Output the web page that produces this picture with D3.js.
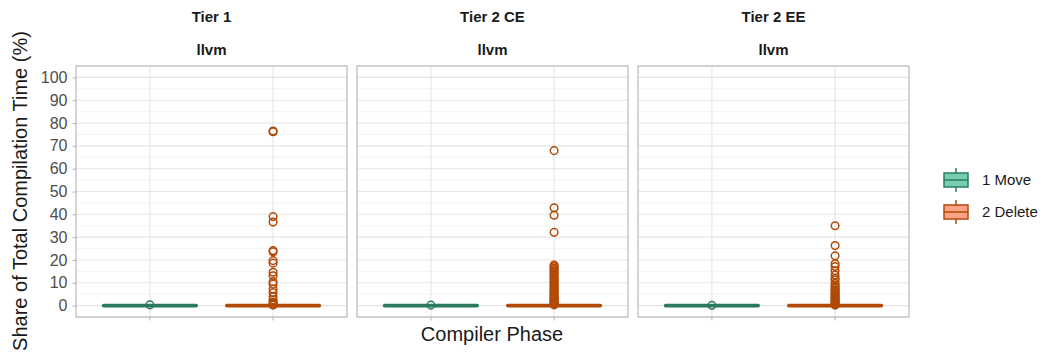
<!DOCTYPE html>
<html lang="en">
<head>
<meta charset="UTF-8">
<title>Share of Total Compilation Time</title>
<script src="https://d3js.org/d3.v7.min.js"></script>
<style>
    body { margin: 0; background: #fff; font-family: "Liberation Sans", Arial, sans-serif; }
    svg text { font-family: "Liberation Sans", Arial, sans-serif; }
</style>
</head>
<body>
<svg id="chart" width="1041" height="352"></svg>
<script>
    // panels and categories
    const tiers = ["Tier 1", "Tier 2 CE", "Tier 2 EE"];
    const phases = ["1 Move", "2 Delete"];
    const yTicks = [0, 10, 20, 30, 40, 50, 60, 70, 80, 90, 100];

    // box stats per tier: [min, q1, median, q3, max]
    const moveStats = [[0, 0, 0, 0, 0.1], [0, 0, 0, 0, 0.1], [0, 0, 0, 0, 0.1]];
    const deleteStats = [[0, 0, 0, 0, 0.1], [0, 0, 0, 0, 0.1], [0, 0, 0, 0, 0.1]];

    // outliers
    const moveOutliers = [[0.3], [0.2], [0.1]];
    const deleteOutliers = [
        [76.5, 76.2, 39.0, 36.6, 24.1, 23.6, 19.7, 18.6, 14.6, 13.1, 10.5, 9.4, 7.3, 5.7, 3.9, 2.5, 1.6, 1.0, 0.5, 0.2],
        [67.9, 42.9, 39.6, 32.1, 17.8, 17.1, 16.5, 15.8, 15.2, 14.6, 14.0, 13.2, 12.5, 11.9, 11.2, 10.6, 9.9, 9.3,
         8.7, 8.1, 7.5, 6.9, 6.4, 5.8, 5.3, 4.7, 4.2, 3.7, 3.2, 2.8, 2.4, 2.0, 1.6, 1.2, 0.9, 0.6, 0.3],
        [35.0, 26.3, 21.8, 18.3, 17.1, 15.3, 13.4, 12.0, 11.2, 9.8, 9.0, 8.3, 7.6, 6.9, 6.3, 5.7, 5.1, 4.6,
         4.0, 3.5, 3.0, 2.5, 2.0, 1.6, 1.2, 0.8, 0.5, 0.2]
    ];

    const fills = ["#78ceb0", "#fca386"];
    const strokes = ["#2b7a5f", "#b04a06"];

    const svg = d3.select("#chart");
    const panelLefts = [76, 357, 638];
    const panelW = 271;
    const panelTop = 66, panelBottom = 317;

    const y = d3.scaleLinear().domain([-5, 105]).range([panelBottom, panelTop]);

    tiers.forEach((tier, i) => {
        const x0 = panelLefts[i];
        const x = d3.scalePoint().domain(phases).range([x0, x0 + panelW]).padding(0.6);
        const boxW = x.step() * 0.75;
        const g = svg.append("g");

        // grid
        const minor = d3.range(-5, 106, 10);
        g.selectAll(".minor").data(minor).enter().append("line")
            .attr("x1", x0).attr("x2", x0 + panelW)
            .attr("y1", d => y(d)).attr("y2", d => y(d))
            .attr("stroke", "#f0f0f0").attr("stroke-width", 0.8);
        g.selectAll(".major").data(yTicks).enter().append("line")
            .attr("x1", x0).attr("x2", x0 + panelW)
            .attr("y1", d => y(d)).attr("y2", d => y(d))
            .attr("stroke", "#e5e5e5").attr("stroke-width", 1.1);
        g.selectAll(".vmajor").data(phases).enter().append("line")
            .attr("x1", d => x(d)).attr("x2", d => x(d))
            .attr("y1", panelTop).attr("y2", panelBottom)
            .attr("stroke", "#e5e5e5").attr("stroke-width", 1.1);

        // boxes
        const stats = [moveStats[i], deleteStats[i]];
        const outs = [moveOutliers[i], deleteOutliers[i]];
        phases.forEach((p, k) => {
            const s = stats[k];
            const cx = x(p);
            g.append("line").attr("x1", cx).attr("x2", cx)
                .attr("y1", y(s[0])).attr("y2", y(s[4]))
                .attr("stroke", strokes[k]).attr("stroke-width", 1.5);
            g.append("rect")
                .attr("x", cx - boxW / 2).attr("width", boxW)
                .attr("y", y(s[3])).attr("height", Math.max(0.01, y(s[1]) - y(s[3])))
                .attr("fill", fills[k]).attr("stroke", strokes[k]).attr("stroke-width", 1.5);
            g.append("line")
                .attr("x1", cx - boxW / 2).attr("x2", cx + boxW / 2)
                .attr("y1", y(s[2])).attr("y2", y(s[2]))
                .attr("stroke", strokes[k]).attr("stroke-width", 3.8)
                .attr("stroke-linecap", "round");
            g.selectAll(null).data(outs[k]).enter().append("circle")
                .attr("cx", cx).attr("cy", d => y(d)).attr("r", 3.8)
                .attr("fill", "none").attr("stroke", strokes[k]).attr("stroke-width", 1.5);
        });

        // panel border
        g.append("rect").attr("x", x0).attr("y", panelTop).attr("width", panelW).attr("height", panelBottom - panelTop)
            .attr("fill", "none").attr("stroke", "#b3b3b3").attr("stroke-width", 1.1);

        // x ticks
        g.selectAll(".xt").data(phases).enter().append("line")
            .attr("x1", d => x(d)).attr("x2", d => x(d))
            .attr("y1", panelBottom).attr("y2", panelBottom + 3.5)
            .attr("stroke", "#b3b3b3").attr("stroke-width", 1);

        // strips
        g.append("text").attr("x", x0 + panelW / 2).attr("y", 22).attr("text-anchor", "middle")
            .attr("font-size", 15).attr("font-weight", "bold").attr("fill", "#1a1a1a").text(tier);
        g.append("text").attr("x", x0 + panelW / 2).attr("y", 55).attr("text-anchor", "middle")
            .attr("font-size", 15).attr("font-weight", "bold").attr("fill", "#1a1a1a").text("llvm");
    });

    // y axis
    const yAxis = d3.axisLeft(y).tickValues(yTicks).tickSize(3.5).tickPadding(5);
    const ya = svg.append("g").attr("transform", `translate(${panelLefts[0]},0)`).call(yAxis);
    ya.select(".domain").remove();
    ya.selectAll(".tick line").attr("stroke", "#b3b3b3");
    ya.selectAll(".tick text").attr("font-size", 16).attr("fill", "#4d4d4d");

    // axis titles
    svg.append("text").attr("x", 492).attr("y", 341).attr("text-anchor", "middle")
        .attr("font-size", 20).attr("fill", "#1a1a1a").text("Compiler Phase");
    svg.append("text").attr("transform", "translate(27,191) rotate(-90)").attr("text-anchor", "middle")
        .attr("font-size", 20).attr("fill", "#1a1a1a").text("Share of Total Compilation Time (%)");

    // legend
    const leg = svg.append("g");
    phases.forEach((p, k) => {
        const cy = 180 + k * 32;
        const lx = 944, lw = 24, lh = 14;
        leg.append("line").attr("x1", lx + lw / 2).attr("x2", lx + lw / 2)
            .attr("y1", cy - 12).attr("y2", cy + 12)
            .attr("stroke", strokes[k]).attr("stroke-width", 1.5);
        leg.append("rect").attr("x", lx).attr("y", cy - lh / 2).attr("width", lw).attr("height", lh)
            .attr("fill", fills[k]).attr("stroke", strokes[k]).attr("stroke-width", 1.5);
        leg.append("line").attr("x1", lx).attr("x2", lx + lw).attr("y1", cy).attr("y2", cy)
            .attr("stroke", strokes[k]).attr("stroke-width", 1.5);
        leg.append("text").attr("x", 982).attr("y", cy + 5).attr("font-size", 15)
            .attr("fill", "#1a1a1a").text(p);
    });
</script>
</body>
</html>
